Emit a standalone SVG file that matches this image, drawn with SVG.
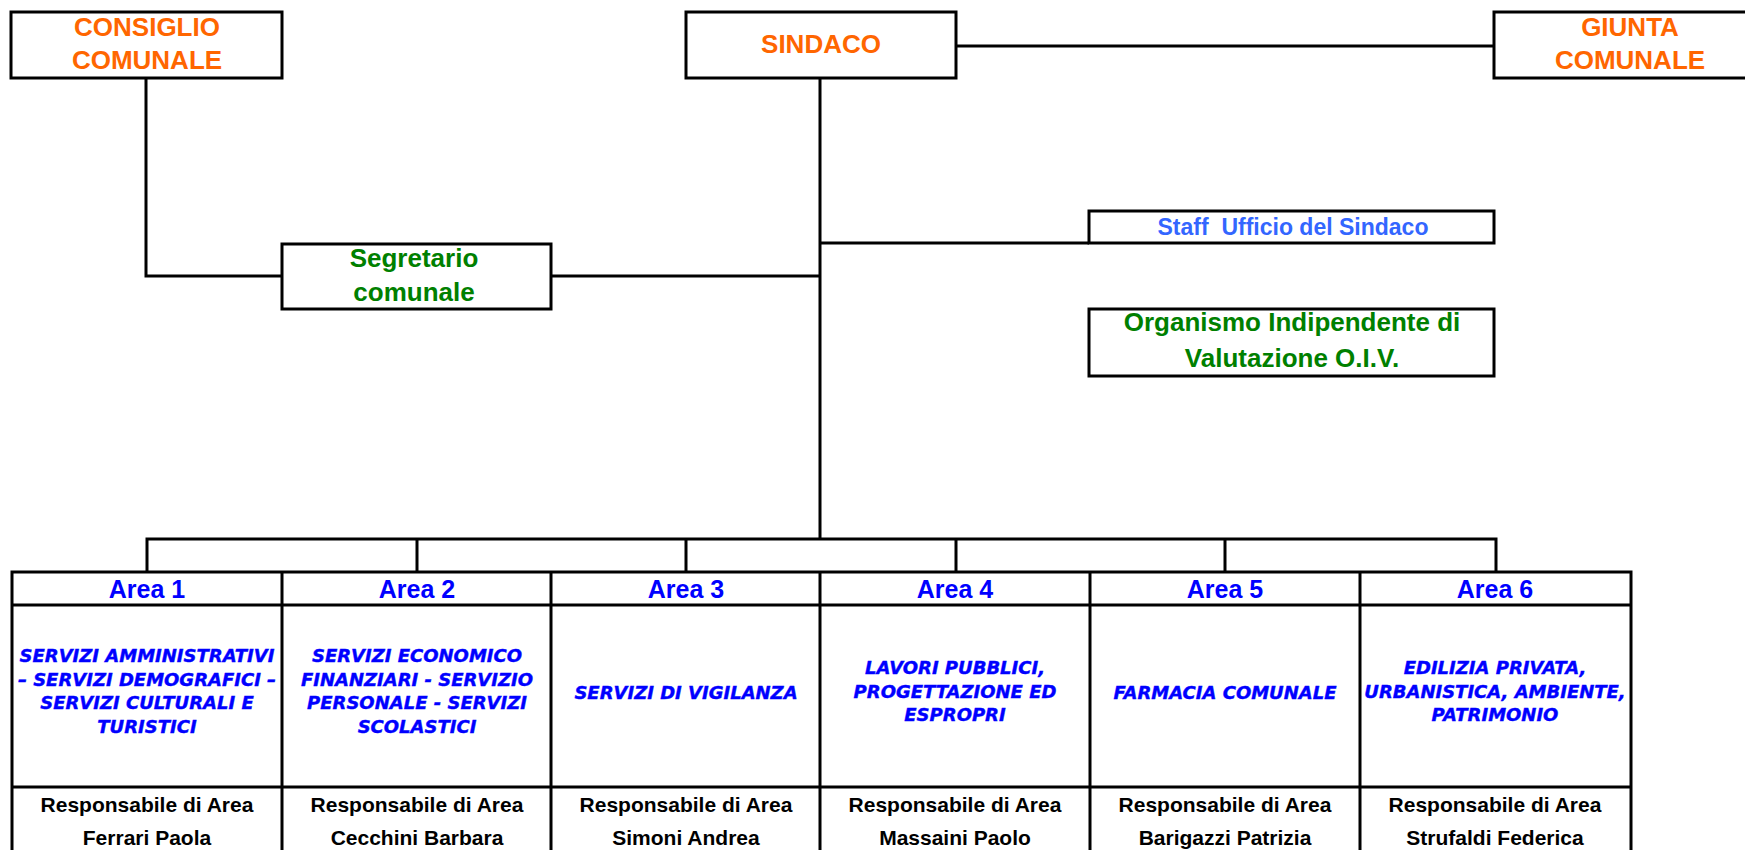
<svg xmlns="http://www.w3.org/2000/svg" width="1745" height="850" viewBox="0 0 1745 850">
<style>
.box{fill:#fff;stroke:#000;stroke-width:3}
.ln{fill:none;stroke:#000;stroke-width:3}
.t{font-family:"Liberation Sans",Arial,sans-serif;font-weight:bold;text-anchor:middle}
.or{fill:#ff6600;font-size:26px}
.gr{fill:#008000;font-size:26px}
.st{fill:#3366ff;font-size:23px}
.ar{fill:#0000ff;font-size:25px}
.ds{font-family:"DejaVu Sans",Verdana,sans-serif;font-weight:bold;font-style:italic;fill:#0000ff;stroke:#0000ff;stroke-width:0.4;font-size:18px;text-anchor:middle}
.rs{fill:#000;font-size:21px}
</style>
<rect width="1745" height="850" fill="#fff"/>
<g id="connectors">
<path class="ln" d="M146 78 V276 H282"/>
<path class="ln" d="M820 78 V539"/>
<path class="ln" d="M956 46 H1494"/>
<path class="ln" d="M551 276 H820"/>
<path class="ln" d="M820 243 H1089"/>
<path class="ln" d="M147 572 V539 H1496 V572"/>
<path class="ln" d="M417 539 V572 M686 539 V572 M956 539 V572 M1225 539 V572"/>
</g>
<g id="consiglio">
<rect class="box" x="11" y="12" width="271" height="66"/>
<text class="t or" x="147" y="36">CONSIGLIO</text>
<text class="t or" x="147" y="69">COMUNALE</text>
</g>
<g id="sindaco">
<rect class="box" x="686" y="12" width="270" height="66"/>
<text class="t or" x="821" y="53">SINDACO</text>
</g>
<g id="giunta">
<rect class="box" x="1494" y="12" width="272" height="66"/>
<text class="t or" x="1630" y="36">GIUNTA</text>
<text class="t or" x="1630" y="69">COMUNALE</text>
</g>
<g id="segretario">
<rect class="box" x="282" y="244" width="269" height="65"/>
<text class="t gr" x="414" y="267">Segretario</text>
<text class="t gr" x="414" y="301">comunale</text>
</g>
<g id="staff">
<rect class="box" x="1089" y="211" width="405" height="32"/>
<text class="t st" x="1293" y="235" xml:space="preserve">Staff  Ufficio del Sindaco</text>
</g>
<g id="oiv">
<rect class="box" x="1089" y="309" width="405" height="67"/>
<text class="t gr" x="1292" y="331">Organismo Indipendente di</text>
<text class="t gr" x="1292" y="367">Valutazione O.I.V.</text>
</g>
<g id="table">
<rect class="box" x="12" y="572" width="1619" height="320"/>
<path class="ln" d="M12 605 H1631 M12 787 H1631 M282 572 V892 M551 572 V892 M820 572 V892 M1090 572 V892 M1360 572 V892"/>
</g>
<g id="area1">
<text class="t ar" x="147" y="598">Area 1</text>
<text class="ds" x="147" y="662">SERVIZI AMMINISTRATIVI</text>
<text class="ds" x="147" y="686">– SERVIZI DEMOGRAFICI –</text>
<text class="ds" x="147" y="709">SERVIZI CULTURALI E</text>
<text class="ds" x="147" y="733">TURISTICI</text>
<text class="t rs" x="147" y="812">Responsabile di Area</text>
<text class="t rs" x="147" y="845">Ferrari Paola</text>
</g>
<g id="area2">
<text class="t ar" x="417" y="598">Area 2</text>
<text class="ds" x="417" y="662">SERVIZI ECONOMICO</text>
<text class="ds" x="417" y="686">FINANZIARI - SERVIZIO</text>
<text class="ds" x="417" y="709">PERSONALE - SERVIZI</text>
<text class="ds" x="417" y="733">SCOLASTICI</text>
<text class="t rs" x="417" y="812">Responsabile di Area</text>
<text class="t rs" x="417" y="845">Cecchini Barbara</text>
</g>
<g id="area3">
<text class="t ar" x="686" y="598">Area 3</text>
<text class="ds" x="686" y="699">SERVIZI DI VIGILANZA</text>
<text class="t rs" x="686" y="812">Responsabile di Area</text>
<text class="t rs" x="686" y="845">Simoni Andrea</text>
</g>
<g id="area4">
<text class="t ar" x="955" y="598">Area 4</text>
<text class="ds" x="955" y="674">LAVORI PUBBLICI,</text>
<text class="ds" x="955" y="698">PROGETTAZIONE ED</text>
<text class="ds" x="955" y="721">ESPROPRI</text>
<text class="t rs" x="955" y="812">Responsabile di Area</text>
<text class="t rs" x="955" y="845">Massaini Paolo</text>
</g>
<g id="area5">
<text class="t ar" x="1225" y="598">Area 5</text>
<text class="ds" x="1225" y="699">FARMACIA COMUNALE</text>
<text class="t rs" x="1225" y="812">Responsabile di Area</text>
<text class="t rs" x="1225" y="845">Barigazzi Patrizia</text>
</g>
<g id="area6">
<text class="t ar" x="1495" y="598">Area 6</text>
<text class="ds" x="1495" y="674">EDILIZIA PRIVATA,</text>
<text class="ds" x="1495" y="698">URBANISTICA, AMBIENTE,</text>
<text class="ds" x="1495" y="721">PATRIMONIO</text>
<text class="t rs" x="1495" y="812">Responsabile di Area</text>
<text class="t rs" x="1495" y="845">Strufaldi Federica</text>
</g>
</svg>
